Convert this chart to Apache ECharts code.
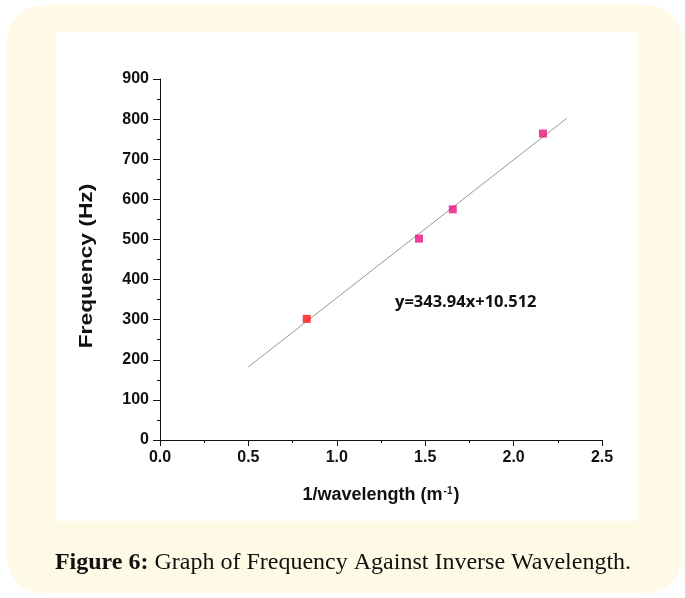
<!DOCTYPE html>
<html>
<head>
<meta charset="utf-8">
<script src="https://cdn.jsdelivr.net/npm/echarts@6/dist/echarts.min.js"></script>
<style>
html,body{margin:0;padding:0;background:#ffffff;}
#chart{width:685px;height:598px;}
</style>
</head>
<body>
<div id="chart"></div>
<script>
// Data
var invWavelength = [0.83, 1.465, 1.656, 2.166];
var frequency = [302, 502, 575, 764];
var pointColors = ['#ff1010', '#e8107e', '#e8107e', '#e8107e'];
var fitX = [0.5, 2.3];
var fitY = [182.5, 801.6];
var equationText = 'y=343.94x+10.512';
var yAxisTitle = 'Frequency (Hz)';
var xAxisTitle = '1/wavelength (m{sup|-1})';
var captionBold = 'Figure 6:';
var captionRest = ' Graph of Frequency Against Inverse Wavelength.';

var chart = echarts.init(document.getElementById('chart'), null, {renderer: 'canvas'});

var scatterData = invWavelength.map(function (x, i) {
  return {value: [x, frequency[i]], itemStyle: {color: pointColors[i]}};
});
var fitData = fitX.map(function (x, i) { return [x, fitY[i]]; });

var sans = '"Liberation Sans", Arial, sans-serif';

var option = {
  animation: false,
  backgroundColor: '#ffffff',
  graphic: [
    {type: 'rect', z: -10, shape: {x: 7, y: 5, width: 675, height: 588, r: 36}, style: {fill: '#fffae6'}},
    {type: 'rect', z: -9, shape: {x: 56, y: 32, width: 582, height: 489}, style: {fill: '#ffffff'}},
    {type: 'text', x: 395, y: 302, style: {text: equationText, font: 'bold 16.5px "Open Sans", "Liberation Sans", sans-serif', fill: '#111', textVerticalAlign: 'middle'}},
    {type: 'text', x: 87, y: 266, rotation: Math.PI / 2, scaleX: 1.2, scaleY: 1,
      style: {text: yAxisTitle, font: 'bold 19px ' + sans, fill: '#111', textAlign: 'center', textVerticalAlign: 'middle'}},
    {type: 'text', x: 343, y: 563, style: {
      rich: {
        b: {font: 'bold 24px "Liberation Serif", serif', fill: '#111'},
        n: {font: '24px "Liberation Serif", serif', fill: '#111'}
      },
      text: '{b|' + captionBold + '}{n|' + captionRest + '}',
      textAlign: 'center', textVerticalAlign: 'middle'
    }}
  ],
  grid: {left: 160, right: 83, top: 79, bottom: 158, containLabel: false},
  xAxis: {
    type: 'value', min: 0, max: 2.5, interval: 0.5,
    name: xAxisTitle,
    nameLocation: 'middle', nameGap: 46,
    nameTextStyle: {fontFamily: sans, fontWeight: 'bold', fontSize: 18, color: '#111',
      rich: {sup: {fontSize: 10, fontWeight: 'bold', verticalAlign: 'top', color: '#111', padding: [0, 1, 9, 1]}}},
    axisLine: {show: true, onZero: false, lineStyle: {color: '#111', width: 1}},
    axisTick: {show: true, inside: false, length: 6, lineStyle: {color: '#111'}},
    minorTick: {show: true, splitNumber: 2, length: 3, lineStyle: {color: '#111'}},
    splitLine: {show: false},
    axisLabel: {fontFamily: sans, fontWeight: 'bold', fontSize: 16, color: '#111', margin: 10,
      formatter: function (v) { return v.toFixed(1); }}
  },
  yAxis: {
    type: 'value', min: 0, max: 900, interval: 100,
    axisLine: {show: true, onZero: false, lineStyle: {color: '#111', width: 1}},
    axisTick: {show: true, inside: false, length: 7, lineStyle: {color: '#111'}},
    minorTick: {show: true, splitNumber: 2, length: 3, lineStyle: {color: '#111'}},
    splitLine: {show: false},
    axisLabel: {fontFamily: sans, fontWeight: 'bold', fontSize: 16, color: '#111', margin: 11}
  },
  series: [
    {type: 'line', data: fitData, symbol: 'none', lineStyle: {color: '#999999', width: 1}, z: 1, silent: true},
    {type: 'scatter', data: scatterData, symbol: 'rect', symbolSize: 8, z: 3}
  ]
};
chart.setOption(option);
</script>
</body>
</html>
